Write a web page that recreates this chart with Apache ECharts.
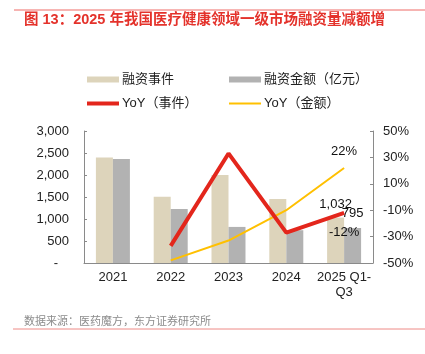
<!DOCTYPE html>
<html>
<head>
<meta charset="utf-8">
<script src="https://cdn.jsdelivr.net/npm/echarts@6/dist/echarts.min.js"></script>
<style>
  html, body { margin: 0; padding: 0; background: #fff; }
  #main { width: 425px; height: 354px; }
</style>
</head>
<body>
<div id="main"></div>
<script>
// 数据
const categories = ['2021', '2022', '2023', '2024', '2025 Q1-\nQ3'];
const dealCount = [2395, 1505, 2000, 1455, 1032];   // 融资事件
const dealAmount = [2365, 1228, 820, 745, 795];     // 融资金额（亿元）
const yoyCount = [null, -37, 33, -27, -12];         // YoY（事件）
const yoyAmount = [null, -48, -33, -10, 22];        // YoY（金额）
const leftTicks = [0, 3000, 500];
const rightTicks = [-50, 50, 20];

const FONT = '"Liberation Sans", Arial, "Noto Sans CJK SC", sans-serif';
const last = categories.length - 1;

const fmtNum = v => v === 0 ? '-   ' : Number(v).toLocaleString('en-US');

// only the last point carries a label
const withLastLabel = (arr, label) => arr.map((v, i) =>
  i === last ? { value: v, label: Object.assign({ show: true }, label) } : v);

const chart = echarts.init(document.getElementById('main'), null, { renderer: 'canvas' });

const legendBase = {
  orient: 'horizontal',
  padding: 0,
  itemWidth: 32,
  itemHeight: 6,
  itemGap: 0,
  textStyle: { fontSize: 13, color: '#222', fontFamily: FONT, padding: [0, 0, 0, -2] },
  selectedMode: false
};

chart.setOption({
  backgroundColor: '#fff',
  animation: false,
  textStyle: { fontFamily: FONT },
  graphic: [
    { type: 'line', shape: { x1: 14, y1: 10, x2: 425, y2: 10 }, style: { stroke: '#ee6b66', lineWidth: 1 } },
    { type: 'text', left: 24, top: 13, style: { text: '图 13：2025 年我国医疗健康领域一级市场融资量减额增', fill: '#e4322b', font: 'bold 14.5px ' + FONT } },
    { type: 'text', left: 24, top: 316, style: { text: '数据来源：医药魔方，东方证券研究所', fill: '#8c8c8c', font: '11px ' + FONT } },
    { type: 'line', shape: { x1: 13, y1: 329, x2: 425, y2: 329 }, style: { stroke: '#ee8a86', lineWidth: 1 } }
  ],
  legend: [
    Object.assign({}, legendBase, { left: 87, top: 73, data: [{ name: '融资事件', icon: 'rect' }] }),
    Object.assign({}, legendBase, { left: 229, top: 73, data: [{ name: '融资金额（亿元）', icon: 'rect' }] }),
    Object.assign({}, legendBase, { left: 87, top: 97, itemHeight: 4, data: [{ name: 'YoY（事件）', icon: 'rect' }] }),
    Object.assign({}, legendBase, { left: 229, top: 97, itemHeight: 2, data: [{ name: 'YoY（金额）', icon: 'rect' }] })
  ],
  grid: { left: 84, right: 52, top: 131, bottom: 91, containLabel: false },
  xAxis: {
    type: 'category',
    data: categories,
    axisLine: { lineStyle: { color: '#8a8a8a', width: 1 } },
    axisTick: { inside: true, length: 3, lineStyle: { color: '#8a8a8a' } },
    axisLabel: { interval: 0, fontSize: 13, color: '#222', margin: 7, lineHeight: 15, fontFamily: FONT },
    splitLine: { show: false }
  },
  yAxis: [
    {
      type: 'value',
      min: leftTicks[0], max: leftTicks[1], interval: leftTicks[2],
      axisLine: { show: true, lineStyle: { color: '#8a8a8a' } },
      axisTick: { show: true, inside: true, length: 3, lineStyle: { color: '#8a8a8a' } },
      axisLabel: { fontSize: 13, color: '#222', margin: 15, formatter: fmtNum, fontFamily: FONT },
      splitLine: { show: false }
    },
    {
      type: 'value',
      min: rightTicks[0], max: rightTicks[1], interval: rightTicks[2],
      axisLine: { show: true, lineStyle: { color: '#8a8a8a' } },
      axisTick: { show: true, inside: true, length: 3, lineStyle: { color: '#8a8a8a' } },
      axisLabel: { fontSize: 13, color: '#222', margin: 10, formatter: '{value}%', fontFamily: FONT },
      splitLine: { show: false }
    }
  ],
  series: [
    {
      name: '融资事件',
      type: 'bar',
      barWidth: 17,
      barGap: '0%',
      itemStyle: { color: '#ddd4bb' },
      data: withLastLabel(dealCount, { position: 'top', distance: 7, fontSize: 13, color: '#111', formatter: p => fmtNum(p.value) })
    },
    {
      name: '融资金额（亿元）',
      type: 'bar',
      barWidth: 17,
      itemStyle: { color: '#b2b2b2' },
      data: withLastLabel(dealAmount, { position: 'top', distance: 8, fontSize: 13, color: '#111', formatter: p => fmtNum(p.value) })
    },
    {
      name: 'YoY（事件）',
      type: 'line',
      yAxisIndex: 1,
      symbol: 'circle',
      symbolSize: 0,
      showSymbol: true,
      z: 4,
      itemStyle: { color: '#e3261c' },
      lineStyle: { color: '#e3261c', width: 4 },
      data: withLastLabel(yoyCount, { position: 'bottom', distance: 13, fontSize: 13, color: '#111', formatter: '{c}%' })
    },
    {
      name: 'YoY（金额）',
      type: 'line',
      yAxisIndex: 1,
      symbol: 'circle',
      symbolSize: 0,
      showSymbol: true,
      z: 3,
      itemStyle: { color: '#ffc000' },
      lineStyle: { color: '#ffc000', width: 2 },
      data: withLastLabel(yoyAmount, { position: 'top', distance: 10, fontSize: 13, color: '#111', formatter: '{c}%' })
    }
  ]
});
</script>
</body>
</html>
